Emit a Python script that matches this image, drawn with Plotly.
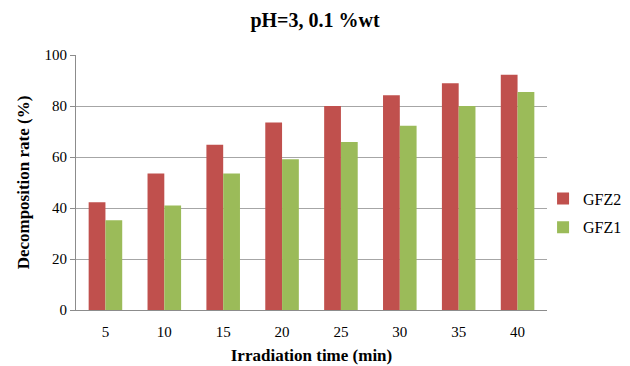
import plotly.graph_objects as go

times = ["5", "10", "15", "20", "25", "30", "35", "40"]
gfz2 = [42.3, 53.5, 64.8, 73.5, 80.0, 84.2, 88.9, 92.3]
gfz1 = [35.2, 41.0, 53.5, 59.1, 65.9, 72.3, 80.0, 85.5]

font = "Times New Roman"

fig = go.Figure()
fig.add_trace(go.Bar(x=times, y=gfz2, name="GFZ2", legendgroup="a",
                     marker=dict(color="#C0504D", line=dict(width=0))))
fig.add_trace(go.Bar(x=times, y=gfz1, name="GFZ1", legendgroup="b",
                     marker=dict(color="#9BBB59", line=dict(width=0))))

fig.update_layout(
    width=630, height=366,
    margin=dict(l=76, r=83, t=55, b=56, autoexpand=False),
    paper_bgcolor="white", plot_bgcolor="white",
    font=dict(family=font, size=15, color="black"),
    title=dict(text="<b>pH=3, 0.1 %wt</b>", x=0.5, xanchor="center", y=0.945, yanchor="middle",
               font=dict(family=font, size=20, color="black")),
    barmode="group", bargap=0.43, bargroupgap=0,
    legend=dict(xref="container", yref="container", x=0.862, xanchor="left", y=0.418, yanchor="middle",
                font=dict(family=font, size=16), itemwidth=30, tracegroupgap=5,
                bgcolor="rgba(0,0,0,0)"),
    xaxis=dict(showline=True, linecolor="#8c8c8c", linewidth=1, ticks="", showgrid=False,
               ticklabelstandoff=8,
               title=dict(text="<b>Irradiation time (min)</b>", font=dict(family=font, size=17), standoff=10),
               tickfont=dict(family=font, size=15)),
    yaxis=dict(range=[0, 100], dtick=20, showline=True, linecolor="#8c8c8c", linewidth=1,
               ticks="outside", ticklen=5, tickcolor="#8c8c8c",
               showgrid=True, gridcolor="#a6a6a6", gridwidth=1, zeroline=False,
               title=dict(text="<b>Decomposition rate (%)</b>", font=dict(family=font, size=17), standoff=10),
               tickfont=dict(family=font, size=15)),
)

fig.write_html("out.html")
